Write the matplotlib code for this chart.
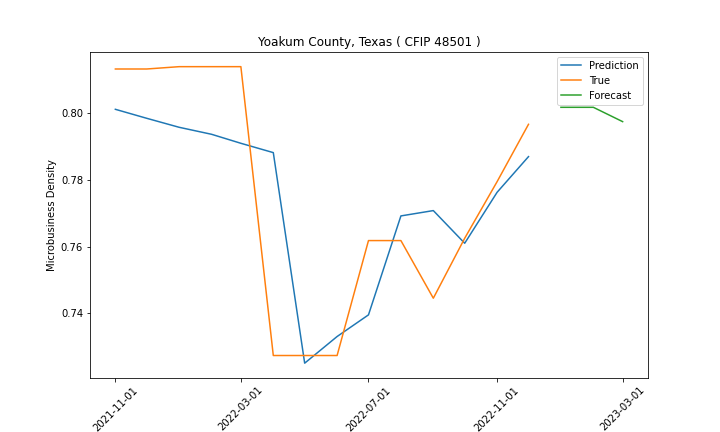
import matplotlib
matplotlib.use("Agg")
import matplotlib.pyplot as plt
import pandas as pd

hist_dates = pd.date_range("2021-11-01", "2022-12-01", freq="MS")
prediction = [0.8012, 0.7985, 0.7958, 0.7937, 0.7910, 0.7882, 0.7250,
              0.7330, 0.7395, 0.7692, 0.7708, 0.7610, 0.7763, 0.7870]
true_vals = [0.8133, 0.8133, 0.8140, 0.8140, 0.8140, 0.7273, 0.7273,
             0.7273, 0.7618, 0.7618, 0.7445, 0.7625, 0.7795, 0.7967]
fc_dates = pd.date_range("2023-01-01", "2023-03-01", freq="MS")
forecast = [0.8018, 0.8018, 0.7975]

fig, ax = plt.subplots(figsize=(10, 6), dpi=72)
fig.subplots_adjust(left=0.125, right=0.9, top=0.88, bottom=0.125)
ax.plot(hist_dates, prediction, label="Prediction")
ax.plot(hist_dates, true_vals, label="True")
ax.plot(fc_dates, forecast, label="Forecast")
ticks = pd.to_datetime(["2021-11-01", "2022-03-01", "2022-07-01", "2022-11-01", "2023-03-01"])
ax.set_xticks(ticks)
ax.set_xticklabels([t.strftime("%Y-%m-%d") for t in ticks], rotation=45)
ax.set_ylabel("Microbusiness Density")
ax.set_title("Yoakum County, Texas ( CFIP 48501 )")
ax.legend(loc="upper right")
fig.savefig("out.png", dpi=72)
